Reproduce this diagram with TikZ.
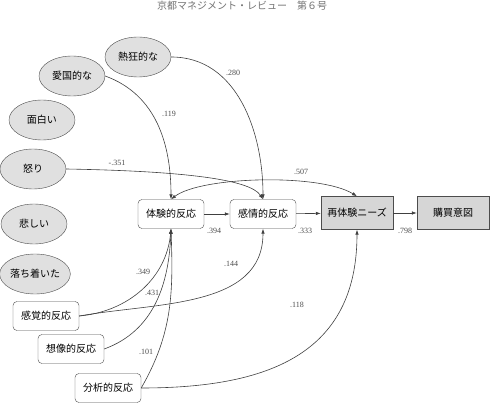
\documentclass[tikz,border=0pt]{standalone}
\usepackage{fontspec}
\setmainfont{Liberation Serif}
\newfontfamily\jp{Noto Sans CJK JP}
\usetikzlibrary{arrows.meta,shapes.geometric}

\tikzset{
  emo/.style={ellipse, draw=black!70, fill=black!12, minimum width=66pt,
    minimum height=40pt, inner sep=0pt, font=\jp\fontsize{10}{12}\selectfont},
  resp/.style={rectangle, rounded corners=4pt, draw=black!70, fill=white,
    minimum width=66pt, minimum height=29pt, inner sep=0pt,
    font=\jp\fontsize{10}{12}\selectfont},
  outc/.style={rectangle, draw=black!70, fill=black!16, minimum width=72pt,
    minimum height=33pt, inner sep=0pt, font=\jp\fontsize{10}{12}\selectfont},
  arr/.style={->, draw=black!75, line width=0.6pt},
  coef/.style={font=\fontsize{8}{9}\selectfont, text=black!70, inner sep=1pt},
}

\begin{document}
\begin{tikzpicture}[x=1pt, y=1pt, >={Latex[length=5pt,width=3.5pt]}]
  \useasboundingbox (0,0) rectangle (492,407);

  % running head
  \node[anchor=base, text=black!55, font=\jp\fontsize{10}{12}\selectfont]
    (head) at (242,397) {京都マネジメント・レビュー　第６号};

  % emotions
  \foreach \name/\pos/\lab in {netsu/{138,350}/熱狂的な, aikoku/{72,331}/愛国的な,
      omoshiroi/{42,287}/面白い, ikari/{33,238}/怒り,
      kanashii/{34,183}/悲しい, ochitsuki/{35,133}/落ち着いた}
    \node[emo] (\name) at (\pos) {\lab};

  % responses
  \foreach \name/\pos/\lab in {kankaku/{46,91}/感覚的反応, sozo/{71,58}/想像的反応,
      bunseki/{108,19}/分析的反応, taiken/{171,193}/体験的反応,
      kanjo/{263,193}/感情的反応}
    \node[resp] (\name) at (\pos) {\lab};

  % outcomes
  \node[outc] (saitaiken) at (357,194) {再体験ニーズ};
  \node[outc] (kobai) at (453,194) {購買意図};

  % main chain
  \draw[arr] (taiken) -- (kanjo);
  \draw[arr] (kanjo) -- (saitaiken);
  \draw[arr] (saitaiken) -- (kobai);
  \draw[arr, <->] (taiken.north) .. controls +(30,23) and +(-37,23) .. (saitaiken.north);

  % paths from the top
  \draw[arr] (aikoku.east) to[out=-20, in=90] (taiken.north);
  \draw[arr] (netsu.east) to[out=0, in=90] (kanjo.north);
  \draw[arr] (ikari.east) .. controls (180,236) and (250,228) .. (kanjo.north);

  % paths from below
  \draw[arr] (kankaku.east) to[out=5, in=-95] (taiken.south);
  \draw[arr] (sozo.east) to[out=20, in=-92] (taiken.south);
  \draw[arr] (bunseki.east) to[out=60, in=-88] (taiken.south);
  \draw[arr] (kankaku.east) to[out=10, in=-90] (kanjo.south);
  \draw[arr] (bunseki.east) to[out=0, in=-90, looseness=1.2] (saitaiken.south);

  % coefficients
  \foreach \pos/\val in {{233,334}/.280, {169,293}/.119, {117,244}/-.351,
      {301,235}/.507, {214,176}/.394, {305,176}/.333, {405,176}/.798,
      {231,143}/.144, {143,135}/.349, {152,114}/.431, {146,55}/.101,
      {297,102}/.118}
    \node[coef] at (\pos) {\val};
\end{tikzpicture}
\end{document}
